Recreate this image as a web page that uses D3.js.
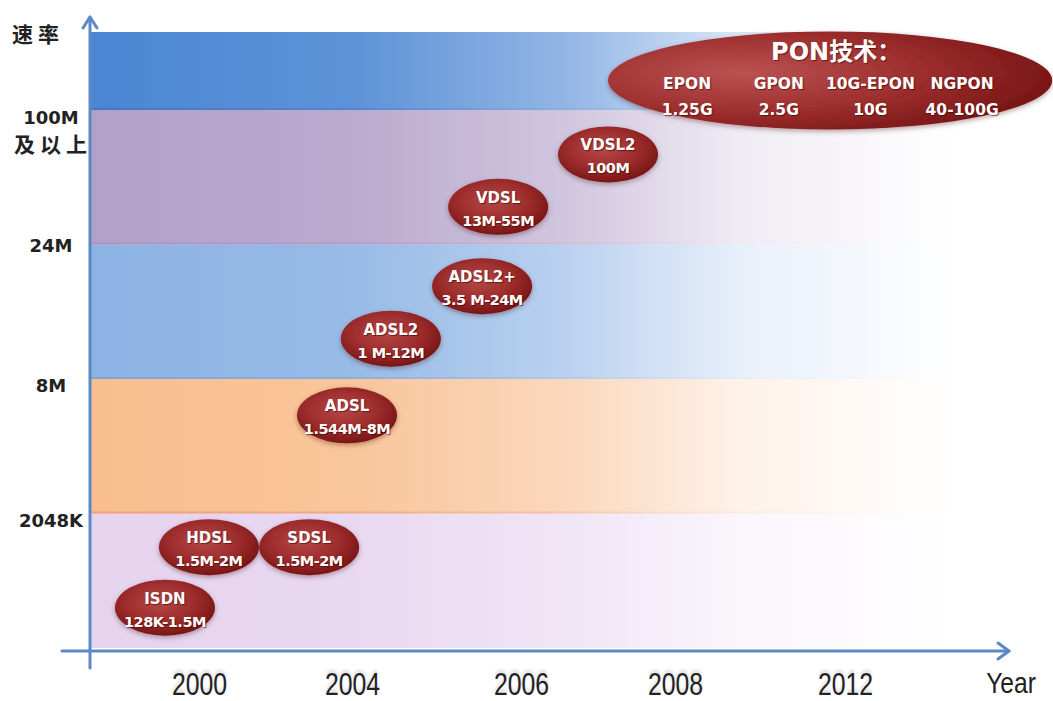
<!DOCTYPE html>
<html>
<head>
<meta charset="utf-8">
<script src="https://cdn.jsdelivr.net/npm/d3@7"></script>
<style>
  html, body { margin: 0; padding: 0; background: #fff; }
  svg { display: block; }
  .tech text { fill: #fff; font-family: "DejaVu Sans", "Noto Sans CJK SC", sans-serif; font-weight: bold; text-shadow: 1px 1px 1px rgba(60,0,0,0.6); }
</style>
</head>
<body>
<svg id="chart" width="1053" height="701"></svg>
<script>
// Year ticks on the horizontal axis
const years = [2000, 2004, 2006, 2008, 2012];

// Speed tiers: boundary level and label
const tierLevels = [1, 2, 3, 4];
const tierLabels = ["2048K", "8M", "24M", "100M"];
const topLevel = 4.58;

// Band colours, bottom tier first
const bandColors = ["#e6d4ef", "#f8be8f", "#8cb3e4", "#b2a0c9", "#4b86d3"];
const bandEdges  = ["#e6d4ef", "#ee9f7c", "#7da6d8", "#a693c2", "#4079c6"];

// Access technologies
const techNames  = ["ISDN", "HDSL", "SDSL", "ADSL", "ADSL2", "ADSL2+", "VDSL", "VDSL2"];
const techRates  = ["128K-1.5M", "1.5M-2M", "1.5M-2M", "1.544M-8M", "1 M-12M", "3.5 M-24M", "13M-55M", "100M"];
const techYears  = [1999.11, 2000.26, 2002.88, 2003.87, 2004.46, 2005.54, 2005.73, 2007.13];
const techLevels = [0.30, 0.75, 0.75, 1.73, 2.30, 2.69, 3.28, 3.67];

// PON family
const ponTitle = "PON技术：";
const ponNames = ["EPON", "GPON", "10G-EPON", "NGPON"];
const ponRates = ["1.25G", "2.5G", "10G", "40-100G"];
const ponYear = 2011.65;
const ponLevel = 4.22;

const svg = d3.select("#chart");
const defs = svg.append("defs");

const axisX0 = 90, axisY0 = 651;
const bandRight = 960;

// piecewise year scale (ticks are not evenly spaced in time)
const x = d3.scaleLinear().domain(years).range([199, 352, 521, 675, 845]);
// speed level scale
const y = d3.scaleLinear().domain([0, topLevel]).range([648, 32]);

// ---- background bands ----
const bands = d3.range(bandColors.length).map(i => ({
  i, lo: i, hi: i === bandColors.length - 1 ? topLevel : i + 1,
  color: bandColors[i], edge: bandEdges[i]
}));

function fadeGradient(id, color) {
  const g = defs.append("linearGradient").attr("id", id)
    .attr("gradientUnits", "userSpaceOnUse")
    .attr("x1", axisX0).attr("x2", bandRight).attr("y1", 0).attr("y2", 0);
  const mix = t => d3.interpolateRgb(color, "#ffffff")(t);
  [[0, 0], [0.3, 0.1], [0.55, 0.4], [0.75, 0.8], [1, 1]].forEach(([o, t]) => {
    g.append("stop").attr("offset", o).attr("stop-color", mix(t));
  });
  return `url(#${id})`;
}

svg.append("g").selectAll("rect.band").data(bands).join("rect")
  .attr("class", "band")
  .attr("x", axisX0 + 1)
  .attr("width", bandRight - axisX0 - 1)
  .attr("y", d => y(d.hi))
  .attr("height", d => y(d.lo) - y(d.hi))
  .attr("fill", d => fadeGradient("band" + d.i, d.color));

// thin darker rule along the lower edge of each band
svg.append("g").selectAll("rect.edge").data(bands.slice(1)).join("rect")
  .attr("x", axisX0 + 1)
  .attr("width", bandRight - axisX0 - 1)
  .attr("y", d => y(d.lo) - 2)
  .attr("height", 2)
  .attr("fill", d => fadeGradient("edge" + d.i, d.edge));

// ---- axes ----
const axisColor = "#5b89c5";
const axes = svg.append("g").attr("stroke", axisColor).attr("fill", "none")
  .attr("stroke-width", 3).attr("stroke-linecap", "round").attr("stroke-linejoin", "round");
axes.append("line").attr("x1", axisX0).attr("x2", axisX0).attr("y1", 668).attr("y2", 17);
axes.append("polyline").attr("points", `${axisX0 - 7},28 ${axisX0},17 ${axisX0 + 7},28`);
axes.append("line").attr("x1", 62).attr("x2", 1009).attr("y1", axisY0).attr("y2", axisY0);
axes.append("polyline").attr("points", `998,643 1009,${axisY0} 998,659`);

const tickFont = "'Liberation Sans', Arial, sans-serif";
const xAxis = d3.axisBottom(x).tickValues(years).tickFormat(d3.format("d")).tickSize(0).tickPadding(22);
const gx = svg.append("g").attr("transform", `translate(0,${axisY0})`).call(xAxis);
gx.select(".domain").remove();
gx.selectAll("text")
  .attr("font-family", tickFont)
  .attr("font-size", 31).attr("fill", "#222")
  .attr("transform", "scale(0.8,1)")
  .style("text-shadow", "0 -3px 3px rgba(150,150,150,0.35)");

svg.append("text")
  .attr("transform", "translate(1011,693) scale(0.82,1)")
  .attr("text-anchor", "middle")
  .attr("font-family", tickFont)
  .attr("font-size", 30).attr("fill", "#222").text("Year");

// ---- speed labels ----
const labFont = "'DejaVu Sans', 'Noto Sans CJK SC', sans-serif";
const gy = svg.append("g").attr("font-family", labFont).attr("font-weight", "bold")
  .attr("fill", "#222").attr("text-anchor", "middle");
gy.selectAll("text.tier").data(tierLevels).join("text")
  .attr("class", "tier")
  .attr("x", 51)
  .attr("y", d => y(d) + (d === 3 ? 7 : d === 4 ? 14 : 13))
  .attr("font-size", 18)
  .text((d, i) => tierLabels[i]);
gy.append("text").attr("x", 53).attr("y", y(4) + 42)
  .attr("font-family", "'Noto Sans CJK SC', sans-serif").attr("font-size", 21)
  .attr("letter-spacing", 5).text("及以上");
gy.append("text").attr("x", 38).attr("y", 42)
  .attr("font-family", "'Noto Sans CJK SC', sans-serif").attr("font-size", 21)
  .attr("letter-spacing", 5).text("速率");

// ---- technology ellipses ----
const rg = defs.append("radialGradient").attr("id", "redBall")
  .attr("cx", "45%").attr("cy", "40%").attr("r", "62%");
rg.append("stop").attr("offset", "0").attr("stop-color", "#b64848");
rg.append("stop").attr("offset", "0.6").attr("stop-color", "#9b2b2b");
rg.append("stop").attr("offset", "1").attr("stop-color", "#761414");

const rgBig = defs.append("radialGradient").attr("id", "redBig")
  .attr("cx", "30%").attr("cy", "42%").attr("r", "75%");
rgBig.append("stop").attr("offset", "0").attr("stop-color", "#bb5252");
rgBig.append("stop").attr("offset", "0.55").attr("stop-color", "#9c2d2d");
rgBig.append("stop").attr("offset", "1").attr("stop-color", "#741414");

const sh = defs.append("filter").attr("id", "shadow")
  .attr("x", "-20%").attr("y", "-30%").attr("width", "140%").attr("height", "170%");
sh.append("feDropShadow").attr("dx", 0).attr("dy", 2).attr("stdDeviation", 2.5)
  .attr("flood-color", "#3a0000").attr("flood-opacity", 0.35);

const techs = techNames.map((n, i) => ({ name: n, rate: techRates[i], year: techYears[i], level: techLevels[i] }));
const tg = svg.append("g").attr("class", "tech").selectAll("g").data(techs).join("g")
  .attr("transform", d => `translate(${x(d.year)},${y(d.level)})`);
tg.append("ellipse").attr("rx", 50).attr("ry", 28)
  .attr("fill", "url(#redBall)").attr("filter", "url(#shadow)");
tg.append("text").attr("text-anchor", "middle").attr("y", -4).attr("font-size", 15).text(d => d.name);
tg.append("text").attr("text-anchor", "middle").attr("y", 19).attr("font-size", 14.5)
  .attr("letter-spacing", -0.5).text(d => d.rate);

// ---- PON ellipse ----
const pcx = x(ponYear), pcy = y(ponLevel);
const pg = svg.append("g").attr("class", "tech");
pg.append("ellipse").attr("cx", pcx).attr("cy", pcy).attr("rx", 222).attr("ry", 49)
  .attr("fill", "url(#redBig)").attr("filter", "url(#shadow)");
pg.append("text").attr("x", pcx + 6).attr("y", pcy - 20).attr("text-anchor", "middle")
  .attr("font-size", 24).text(ponTitle);
const px = d3.scalePoint().domain(ponNames).range([pcx - 143, pcx + 132]);
pg.selectAll("text.pn").data(ponNames).join("text").attr("class", "pn")
  .attr("x", d => px(d)).attr("y", pcy + 9).attr("text-anchor", "middle")
  .attr("font-size", 15.5).text(d => d);
pg.selectAll("text.pr").data(ponRates).join("text").attr("class", "pr")
  .attr("x", (d, i) => px(ponNames[i])).attr("y", pcy + 35).attr("text-anchor", "middle")
  .attr("font-size", 15.5).text(d => d);
</script>
</body>
</html>
